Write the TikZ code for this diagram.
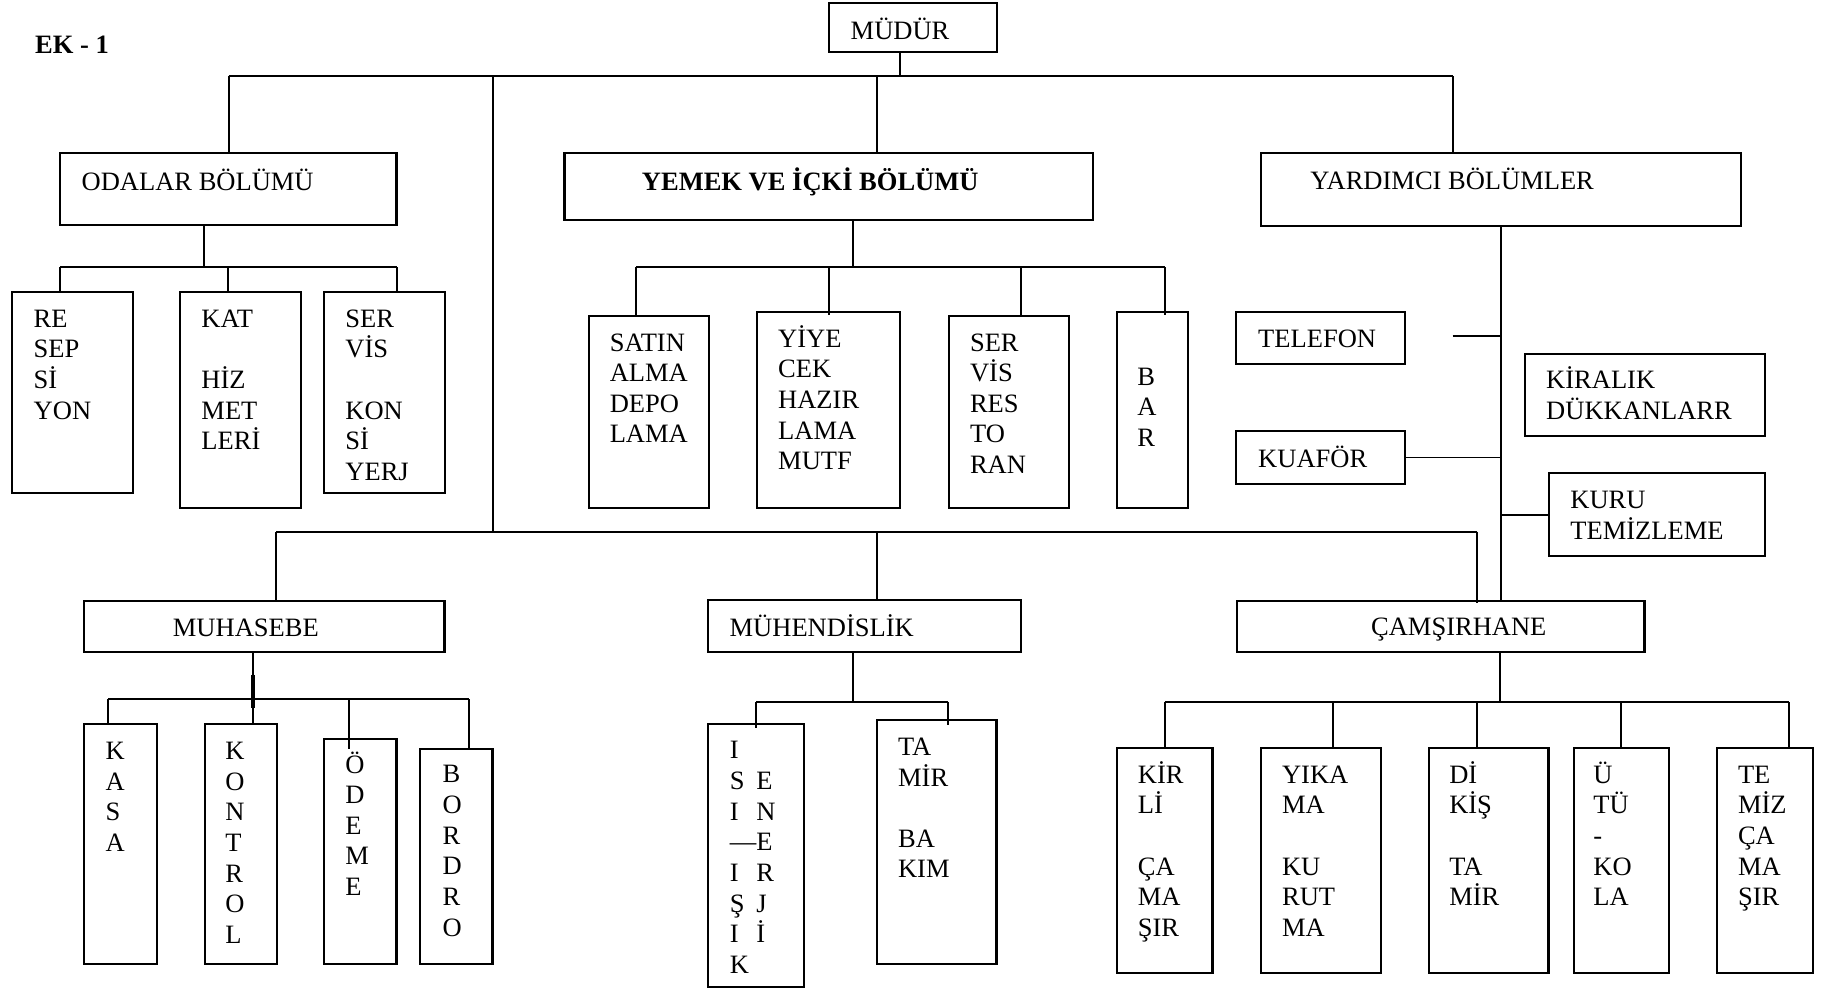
\documentclass[tikz,border=0pt]{standalone}
\usepackage{fontspec}
\setmainfont{Liberation Serif}
\usetikzlibrary{fit}

% frame of a unit, given by its two corners
\newcommand\orgbox[5]{\node[orgframe, fit={(#2,#3) (#4,#5)}] (#1) {};}
% text of a unit: x of the left edge, baseline of the first line
\newcommand\orgtext[4]{\node[orgtxt] (#1) at (#2,#3) {\rule{0pt}{12.5pt}#4};}
% two-letter row of the split column
\newcommand\tworow[2]{\makebox[13.6pt][l]{#1}#2}

\tikzset{
  orgframe/.style={draw, line width=1.1pt, inner sep=0pt, rectangle},
  orgtxt/.style={anchor=north west, yshift=12.5pt, inner sep=0pt, align=left,
    font=\fontsize{13.6pt}{15.72pt}\selectfont},
  link/.style={line width=1pt},
  heavylink/.style={line width=2pt},
}

\begin{document}
\begin{tikzpicture}[x=0.6pt, y=-0.6pt]
\useasboundingbox (0,0) rectangle (1568,848);

% ---------- units ----------
\orgbox{mudur}{708.4}{2.9}{852.2}{44.2}
\orgbox{odalar}{51.5}{131}{339}{192.6}
\orgbox{yemek}{482.6}{131}{934.8}{188}
\orgbox{yardim}{1077.9}{131}{1488.6}{193}
\orgbox{resep}{10.3}{249.4}{113.4}{421.2}
\orgbox{kat}{153.9}{249.4}{257.4}{434.6}
\orgbox{konsiyerj}{277.3}{249.4}{380.5}{421.2}
\orgbox{satin}{503.4}{269.9}{605.8}{434}
\orgbox{yiyecek}{647}{266.5}{769.8}{434}
\orgbox{restoran}{811.1}{269.9}{913.8}{434}
\orgbox{bar}{955}{266.5}{1016}{434}
\orgbox{telefon}{1057}{266.5}{1201.3}{311.2}
\orgbox{kiralik}{1303.6}{302.7}{1509.3}{372.5}
\orgbox{kuafor}{1057}{368.5}{1201.3}{413.8}
\orgbox{kuru}{1324}{404.7}{1509.3}{475.1}
\orgbox{muhasebe}{72}{513.6}{380}{557.3}
\orgbox{muhendis}{605.5}{513.3}{872.7}{557.5}
\orgbox{camasir}{1057.4}{513.6}{1406}{557.2}
\orgbox{kasa}{72}{619}{134}{824}
\orgbox{kontrol}{175}{619}{237}{824}
\orgbox{odeme}{277}{632}{339}{824}
\orgbox{bordro}{359}{640}{421}{824}
\orgbox{isi}{605.6}{619}{687.7}{844}
\orgbox{tamir}{749.5}{615.6}{852}{824}
\orgbox{kirli}{955}{639.6}{1036.6}{832.2}
\orgbox{yikama}{1078.2}{639.6}{1180.7}{832.2}
\orgbox{dikis}{1221.9}{639.6}{1323.9}{832.2}
\orgbox{utu}{1345.6}{639.6}{1426.8}{832.2}
\orgbox{temiz}{1468}{639.6}{1549.7}{832.2}

% ---------- texts ----------
\orgtext{t-ek}{29.8}{45.6}{\bfseries EK - 1}
\orgtext{t-mudur}{727}{33.3}{MÜDÜR}
\orgtext{t-odalar}{69.5}{162.4}{ODALAR BÖLÜMÜ}
\orgtext{t-yemek}{548.5}{162.4}{\bfseries YEMEK VE İÇKİ BÖLÜMÜ}
\orgtext{t-yardim}{1120}{161.9}{YARDIMCI BÖLÜMLER}
\orgtext{t-resep}{28.5}{279.3}{RE\\SEP\\Sİ\\YON}
\orgtext{t-kat}{171.9}{279.3}{KAT\\\mbox{}\\HİZ\\MET\\LERİ}
\orgtext{t-konsiyerj}{295}{279.3}{SER\\VİS\\\mbox{}\\KON\\Sİ\\YERJ}
\orgtext{t-satin}{521}{299.8}{SATIN\\ALMA\\DEPO\\LAMA}
\orgtext{t-yiyecek}{665}{296.4}{YİYE\\CEK\\HAZIR\\LAMA\\MUTF}
\orgtext{t-restoran}{829}{299.8}{SER\\VİS\\RES\\TO\\RAN}
\orgtext{t-bar}{972}{329}{B\\A\\R}
\orgtext{t-telefon}{1075.4}{296.4}{TELEFON}
\orgtext{t-kiralik}{1321.6}{332}{KİRALIK\\DÜKKANLARR}
\orgtext{t-kuafor}{1075.4}{399}{KUAFÖR}
\orgtext{t-kuru}{1342.3}{434.6}{KURU\\TEMİZLEME}
\orgtext{t-muhasebe}{147.5}{544}{MUHASEBE}
\orgtext{t-muhendis}{623.5}{543.8}{MÜHENDİSLİK}
\orgtext{t-camasir}{1171.9}{543}{ÇAMŞIRHANE}
\orgtext{t-kasa}{90}{649}{K\\A\\S\\A}
\orgtext{t-kontrol}{192.4}{649}{K\\O\\N\\T\\R\\O\\L}
\orgtext{t-odeme}{295}{660.6}{Ö\\D\\E\\M\\E}
\orgtext{t-bordro}{378}{669}{B\\O\\R\\D\\R\\O}
\orgtext{t-isi}{623.6}{648.4}{I\\\tworow{S}{E}\\\tworow{I}{N}\\—E\\\tworow{I}{R}\\\tworow{Ş}{J}\\\tworow{I}{İ}\\K}
\orgtext{t-tamir}{767.5}{645.5}{TA\\MİR\\\mbox{}\\BA\\KIM}
\orgtext{t-kirli}{972.5}{669.2}{KİR\\Lİ\\\mbox{}\\ÇA\\MA\\ŞIR}
\orgtext{t-yikama}{1095.8}{669.2}{YIKA\\MA\\\mbox{}\\KU\\RUT\\MA}
\orgtext{t-dikis}{1238.7}{669.2}{Dİ\\KİŞ\\\mbox{}\\TA\\MİR}
\orgtext{t-utu}{1362}{669.2}{Ü\\TÜ\\-\\KO\\LA}
\orgtext{t-temiz}{1485.6}{669.2}{TE\\MİZ\\ÇA\\MA\\ŞIR}

% ---------- top level ----------
\coordinate (top-l) at (195.4,65);
\coordinate (top-r) at (1242,65);
\coordinate (top-m) at (769.7,65);
\coordinate (top-t) at (421.4,65);
\coordinate (top-y) at (749.8,65);
\coordinate (low-l) at (236,454.6);
\coordinate (low-r) at (1262.8,454.6);
\coordinate (low-t) at (421.4,454.6);
\coordinate (low-m) at (749.5,454.6);

\draw[link] (top-l) -- (top-r);
\draw[link] (mudur.south -| top-m) -- (top-m);
\draw[link] (top-l) -- (odalar.north -| top-l);
\draw[link] (top-y) -- (yemek.north -| top-y);
\draw[link] (top-r) -- (yardim.north -| top-r);
\draw[link] (top-t) -- (low-t);

\draw[link] (low-l) -- (low-r);
\draw[link] (low-l) -- (muhasebe.north -| low-l);
\draw[link] (low-m) -- (muhendis.north -| low-m);
\draw[link] (low-r) -- (camasir.north -| low-r) -- ++(0,3);

% ---------- rooms division ----------
\coordinate (od-s) at (174.8,228.6);
\coordinate (od-l) at (51.6,228.6);
\coordinate (od-m) at (195.2,228.6);
\coordinate (od-r) at (339.2,228.6);
\draw[link] (odalar.south -| od-s) -- (od-s);
\draw[link] (od-l) -- (od-r);
\draw[link] (od-l) -- (resep.north -| od-l);
\draw[link] (od-m) -- (kat.north -| od-m);
\draw[link] (od-r) -- (konsiyerj.north -| od-r);

% ---------- food and beverage ----------
\coordinate (ye-s) at (729,228.5);
\coordinate (ye-1) at (544,228.5);
\coordinate (ye-2) at (708.8,228.5);
\coordinate (ye-3) at (872.5,228.5);
\coordinate (ye-4) at (996.2,228.5);
\draw[link] (yemek.south -| ye-s) -- (ye-s);
\draw[link] (ye-1) -- (ye-4);
\draw[link] (ye-1) -- (satin.north -| ye-1);
\draw[link] (ye-2) -- (yiyecek.north -| ye-2) -- ++(0,3.5);
\draw[link] (ye-3) -- (restoran.north -| ye-3);
\draw[link] (ye-4) -- (bar.north -| ye-4) -- ++(0,4);

% ---------- auxiliary units ----------
\coordinate (yd) at (1283.2,287);
\coordinate (tel-end) at (1242,287);
\draw[link] (yardim.south -| yd) -- (camasir.north -| yd);
\draw[link] (tel-end) -- (yd);
\draw[link] (kuafor.east) -- (kuafor.east -| yd);
\draw[link] (kuru.west -| yd) -- (kuru.west);

% ---------- accounting ----------
\coordinate (mu-s) at (216,598);
\coordinate (mu-l) at (92.5,598);
\coordinate (mu-o) at (298,598);
\coordinate (mu-r) at (400.6,598);
\draw[link] (muhasebe.south -| mu-s) -- (kontrol.north -| mu-s);
\draw[heavylink] ([yshift=12.6pt]mu-s) -- ([yshift=-4.2pt]mu-s);
\draw[link] (mu-l) -- (mu-r);
\draw[link] (mu-l) -- (kasa.north -| mu-l);
\draw[link] (mu-o) -- (odeme.north -| mu-o) -- ++(0,9);
\draw[link] (mu-r) -- (bordro.north -| mu-r) -- ++(0,2);

% ---------- engineering ----------
\coordinate (me-s) at (729,600);
\coordinate (me-l) at (646.5,600);
\coordinate (me-r) at (810.7,600);
\draw[link] (muhendis.south -| me-s) -- (me-s);
\draw[link] (me-l) -- (me-r);
\draw[link] (me-l) -- (isi.north -| me-l) -- ++(0,4);
\draw[link] (me-r) -- (tamir.north -| me-r) -- ++(0,5);

% ---------- laundry ----------
\coordinate (ca-s) at (1282.7,600.2);
\coordinate (ca-1) at (995.7,600.2);
\coordinate (ca-2) at (1139.4,600.2);
\coordinate (ca-3) at (1262.7,600.2);
\coordinate (ca-4) at (1385.6,600.2);
\coordinate (ca-5) at (1529.3,600.2);
\draw[link] (camasir.south -| ca-s) -- (ca-s);
\draw[link] (ca-1) -- (ca-5);
\draw[link] (ca-1) -- (kirli.north -| ca-1);
\draw[link] (ca-2) -- (yikama.north -| ca-2);
\draw[link] (ca-3) -- (dikis.north -| ca-3);
\draw[link] (ca-4) -- (utu.north -| ca-4);
\draw[link] (ca-5) -- (temiz.north -| ca-5);
\end{tikzpicture}
\end{document}
